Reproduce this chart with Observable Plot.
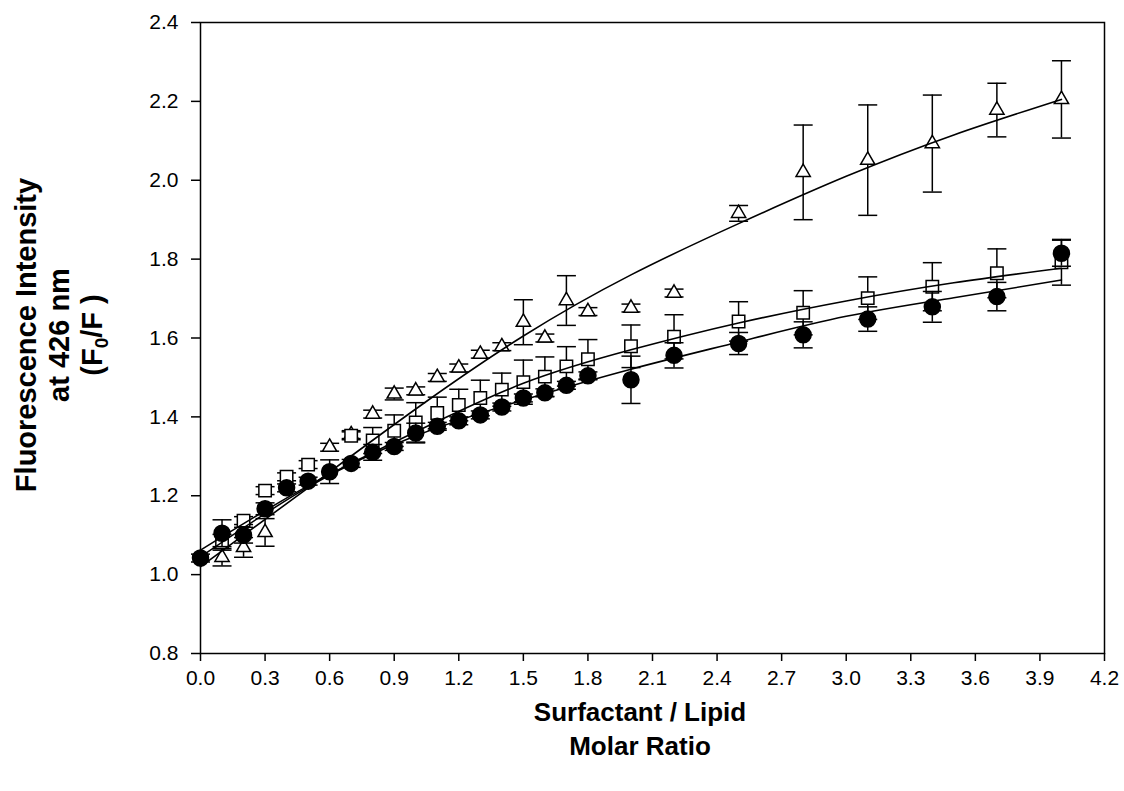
<!DOCTYPE html>
<html>
<head>
<meta charset="utf-8">
<script src="https://cdn.jsdelivr.net/npm/d3@7"></script>
<script src="https://cdn.jsdelivr.net/npm/@observablehq/plot@0.6"></script>
<style>
html,body{margin:0;padding:0;background:#fff;}
#chart{width:1124px;height:791px;}
</style>
</head>
<body>
<div id="chart"></div>
<script>
// ---- data ----
const circleX = [0,0.1,0.2,0.3,0.4,0.5,0.6,0.7,0.8,0.9,1.0,1.1,1.2,1.3,1.4,1.5,1.6,1.7,1.8,2.0,2.2,2.5,2.8,3.1,3.4,3.7,4.0];
const circleY = [1.042,1.105,1.100,1.167,1.220,1.237,1.261,1.282,1.310,1.325,1.359,1.376,1.390,1.405,1.425,1.448,1.461,1.480,1.504,1.494,1.556,1.586,1.608,1.648,1.679,1.705,1.815];
const circleErr = [0.010,0.034,0.020,0.015,0.010,0.010,0.030,0.010,0.020,0.010,0.025,0.010,0.010,0.010,0.010,0.010,0.010,0.010,0.010,0.060,0.032,0.028,0.033,0.031,0.039,0.036,0.033];

const squareX = [0.1,0.2,0.3,0.4,0.5,0.7,0.8,0.9,1.0,1.1,1.2,1.3,1.4,1.5,1.6,1.7,1.8,2.0,2.2,2.5,2.8,3.1,3.4,3.7,4.0];
const squareY = [1.082,1.137,1.213,1.248,1.279,1.352,1.340,1.365,1.386,1.410,1.430,1.448,1.469,1.488,1.502,1.528,1.546,1.579,1.603,1.642,1.664,1.701,1.730,1.764,1.792];
const squareErr = [0.020,0.010,0.010,0.010,0.010,0.010,0.033,0.040,0.050,0.040,0.040,0.045,0.042,0.056,0.050,0.050,0.050,0.054,0.056,0.050,0.056,0.054,0.061,0.062,0.058];

const triangleX = [0.1,0.2,0.3,0.6,0.7,0.8,0.9,1.0,1.1,1.2,1.3,1.4,1.5,1.6,1.7,1.8,2.0,2.2,2.5,2.8,3.1,3.4,3.7,4.0];
const triangleY = [1.044,1.069,1.107,1.323,1.355,1.407,1.458,1.466,1.500,1.524,1.559,1.578,1.640,1.600,1.695,1.667,1.676,1.714,1.916,2.020,2.051,2.093,2.178,2.205];
const triangleErr = [0.022,0.025,0.035,0.010,0.010,0.010,0.015,0.010,0.010,0.010,0.010,0.010,0.057,0.010,0.063,0.010,0.010,0.010,0.020,0.120,0.140,0.123,0.068,0.098];

// fitted curves
const fitX = [0,0.5,1.0,1.5,2.0,2.5,3.0,3.5,4.0];
const fitTriangle = [1.020,1.220,1.420,1.605,1.760,1.890,2.010,2.115,2.205];
const fitSquare = [1.062,1.225,1.362,1.485,1.570,1.638,1.694,1.740,1.777];
const fitCircle = [1.045,1.222,1.352,1.443,1.521,1.590,1.655,1.702,1.747];

const xTicks = [0,0.3,0.6,0.9,1.2,1.5,1.8,2.1,2.4,2.7,3.0,3.3,3.6,3.9,4.2];
const yTicks = [0.8,1.0,1.2,1.4,1.6,1.8,2.0,2.2,2.4];

const xTitleLines = ["Surfactant / Lipid", "Molar Ratio"];
const yTitleLines = ["Fluorescence Intensity", "at 426 nm"];

// ---- build tables ----
const rows = (xs, ys, es) => xs.map((x, i) => ({x, y: ys[i], err: es[i]}));
const circles = rows(circleX, circleY, circleErr);
const squares = rows(squareX, squareY, squareErr);
const triangles = rows(triangleX, triangleY, triangleErr);
const fitRows = (ys) => fitX.map((x, i) => ({x, y: ys[i]}));

const FONT = "'Liberation Sans', Arial, Helvetica, sans-serif";
const capSymbol = {draw(ctx) { ctx.moveTo(-9.5, 0); ctx.lineTo(9.5, 0); }};

function seriesMarks(data, symbol, r, fill) {
  return [
    Plot.ruleX(data, {x: "x", y1: d => d.y - d.err, y2: d => d.y + d.err, stroke: "black", strokeWidth: 1.5}),
    Plot.dot(data, {x: "x", y: d => d.y + d.err, symbol: capSymbol, r: 5, fill: "none", stroke: "black", strokeWidth: 1.5}),
    Plot.dot(data, {x: "x", y: d => d.y - d.err, symbol: capSymbol, r: 5, fill: "none", stroke: "black", strokeWidth: 1.5}),
    Plot.dot(data, {x: "x", y: "y", symbol, r, fill, stroke: "black", strokeWidth: 1.5})
  ];
}

const chart = Plot.plot({
  width: 1124,
  height: 791,
  marginLeft: 200,
  marginRight: 20,
  marginTop: 22,
  marginBottom: 138,
  style: {fontFamily: FONT, fontSize: "21px", color: "black", background: "white"},
  x: {domain: [0, 4.2]},
  y: {domain: [0.8, 2.4]},
  marks: [
    Plot.frame({stroke: "black", strokeWidth: 1.5}),
    Plot.axisX({ticks: xTicks, tickFormat: d3.format(".1f"), tickSize: 8, tickPadding: 9, label: null, strokeWidth: 1.5, fontSize: 21}),
    Plot.axisY({ticks: yTicks, tickFormat: d3.format(".1f"), tickSize: 9, tickPadding: 13, label: null, strokeWidth: 1.5, fontSize: 21}),
    ...seriesMarks(triangles, "triangle", 5.3, "white"),
    ...seriesMarks(squares, "square", 7.0, "white"),
    ...seriesMarks(circles, "circle", 8, "black"),
    Plot.line(fitRows(fitTriangle), {x: "x", y: "y", curve: "natural", stroke: "black", strokeWidth: 1.6}),
    Plot.line(fitRows(fitSquare), {x: "x", y: "y", curve: "natural", stroke: "black", strokeWidth: 1.6}),
    Plot.line(fitRows(fitCircle), {x: "x", y: "y", curve: "natural", stroke: "black", strokeWidth: 1.6})
  ]
});

document.getElementById("chart").appendChild(chart);

// axis titles
const svg = d3.select(chart);
const titles = svg.append("g")
  .attr("font-family", FONT)
  .attr("font-weight", "bold")
  .attr("fill", "black")
  .attr("text-anchor", "middle");

const xt = titles.append("g").attr("font-size", 26);
xTitleLines.forEach((t, i) => {
  xt.append("text").attr("x", 640).attr("y", 721 + i * 34).text(t);
});

const yt = titles.append("g").attr("font-size", 29).attr("transform", "translate(0,335) rotate(-90)");
yTitleLines.forEach((t, i) => {
  yt.append("text").attr("x", 0).attr("y", 36 + i * 33).text(t);
});
const l3 = yt.append("text").attr("x", 0).attr("y", 36 + 2 * 33);
l3.append("tspan").text("(F");
l3.append("tspan").attr("font-size", 19).attr("dy", 6).text("0");
l3.append("tspan").attr("dy", -6).text("/F )");
</script>
</body>
</html>
